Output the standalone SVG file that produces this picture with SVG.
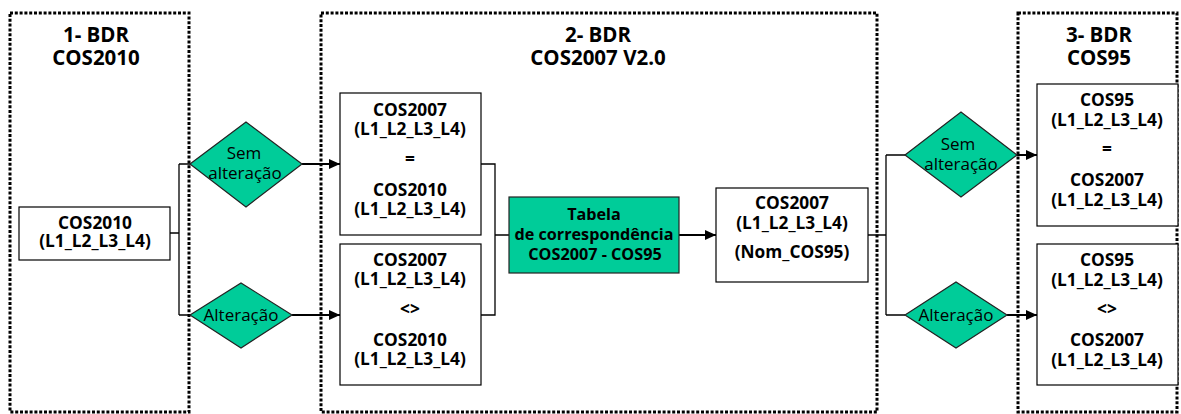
<svg xmlns="http://www.w3.org/2000/svg" width="1181" height="414" viewBox="0 0 1181 414">
<style>
.grp{fill:none;stroke:#000;stroke-width:3;stroke-dasharray:3 1.8}
.title{font-family:"Open Sans",sans-serif;font-weight:bold;font-size:20.5px;text-anchor:middle;fill:#000}
.box{fill:#fff;stroke:#000;stroke-width:1.2}
.teal{fill:#00CC99;stroke:#222;stroke-width:1.2}
.bt{font-family:"Open Sans",sans-serif;font-weight:bold;font-size:17.3px;text-anchor:middle;fill:#000}
.tb{font-size:16.2px}
.dt{font-family:"Open Sans",sans-serif;font-size:17px;text-anchor:middle;fill:#000}
.thin{fill:none;stroke:#000;stroke-width:1.3}
.arr{fill:none;stroke:#000;stroke-width:2;marker-end:url(#ah)}
</style>
<defs>
<marker id="ah" markerWidth="12" markerHeight="12" refX="11" refY="5.5" orient="auto" markerUnits="userSpaceOnUse">
<path d="M0,0.5 L11,5.5 L0,10.5 Z" fill="#000"/>
</marker>
</defs>
<rect width="1181" height="414" fill="#fff"/>

<g id="group1">
<rect class="grp" x="10" y="13" width="179" height="399"/>
<text class="title" x="96" y="42">1- BDR</text>
<text class="title" x="96" y="65">COS2010</text>
</g>
<g id="group2">
<rect class="grp" x="321" y="13" width="556" height="399"/>
<text class="title" x="598" y="42">2- BDR</text>
<text class="title" x="598" y="65">COS2007 V2.0</text>
</g>
<g id="group3">
<rect class="grp" x="1018" y="13" width="159" height="399"/>
<text class="title" x="1099" y="42">3- BDR</text>
<text class="title" x="1099" y="65">COS95</text>
</g>

<g id="connectors">
<path class="thin" d="M170,233 H179 M179,164 V315 M179,164 H191 M179,315 H191"/>
<path class="arr" d="M302,164 H340"/>
<path class="arr" d="M292,315 H340"/>
<path class="thin" d="M481,164 H495 V315 H481 M495,235 H509"/>
<path class="arr" d="M679,235 H716"/>
<path class="thin" d="M868,235 H886 M886,155 V315 M886,155 H905 M886,315 H905"/>
<path class="arr" d="M1017,155 H1037"/>
<path class="arr" d="M1007,315 H1037"/>
</g>

<g id="cos2010">
<rect class="box" x="19" y="207" width="151" height="53"/>
<text class="bt" x="95" y="229">COS2010</text>
<text class="bt" x="95" y="247">(L1_L2_L3_L4)</text>
</g>

<g id="dec-sem-1">
<polygon class="teal" points="190,164 246,122 302,164 246,207"/>
<text class="dt" x="244" y="159">Sem</text>
<text class="dt" x="245" y="179">alteração</text>
</g>
<g id="dec-alt-1">
<polygon class="teal" points="190,315 241,283 292,315 241,348"/>
<text class="dt" x="241" y="321">Alteração</text>
</g>

<g id="box-eq">
<rect class="box" x="340" y="93" width="141" height="142"/>
<text class="bt" x="410" y="116">COS2007</text>
<text class="bt" x="410" y="135">(L1_L2_L3_L4)</text>
<text class="bt" x="410" y="165">=</text>
<text class="bt" x="410" y="196">COS2010</text>
<text class="bt" x="410" y="215">(L1_L2_L3_L4)</text>
</g>
<g id="box-neq">
<rect class="box" x="340" y="244" width="141" height="141"/>
<text class="bt" x="410" y="266">COS2007</text>
<text class="bt" x="410" y="285">(L1_L2_L3_L4)</text>
<text class="bt" x="410" y="315">&lt;&gt;</text>
<text class="bt" x="410" y="346">COS2010</text>
<text class="bt" x="410" y="365">(L1_L2_L3_L4)</text>
</g>

<g id="tabela">
<rect class="teal" x="509" y="197" width="170" height="76"/>
<text class="bt tb" x="594" y="220">Tabela</text>
<text class="bt tb" x="594" y="240">de correspondência</text>
<text class="bt tb" x="595" y="260">COS2007 - COS95</text>
</g>

<g id="nom">
<rect class="box" x="716" y="188" width="152" height="94"/>
<text class="bt" x="792" y="209">COS2007</text>
<text class="bt" x="792" y="229">(L1_L2_L3_L4)</text>
<text class="bt" x="792" y="258">(Nom_COS95)</text>
</g>

<g id="dec-sem-2">
<polygon class="teal" points="905,155 961,112 1017,155 961,197"/>
<text class="dt" x="958" y="150">Sem</text>
<text class="dt" x="961" y="170">alteração</text>
</g>
<g id="dec-alt-2">
<polygon class="teal" points="905,315 956,282 1007,315 956,348"/>
<text class="dt" x="956" y="321">Alteração</text>
</g>

<g id="box-eq95">
<rect class="box" x="1037" y="84" width="141" height="142"/>
<text class="bt" x="1107" y="106">COS95</text>
<text class="bt" x="1107" y="126">(L1_L2_L3_L4)</text>
<text class="bt" x="1107" y="155">=</text>
<text class="bt" x="1107" y="186">COS2007</text>
<text class="bt" x="1107" y="206">(L1_L2_L3_L4)</text>
</g>
<g id="box-neq95">
<rect class="box" x="1037" y="244" width="141" height="141"/>
<text class="bt" x="1107" y="266">COS95</text>
<text class="bt" x="1107" y="286">(L1_L2_L3_L4)</text>
<text class="bt" x="1107" y="315">&lt;&gt;</text>
<text class="bt" x="1107" y="346">COS2007</text>
<text class="bt" x="1107" y="366">(L1_L2_L3_L4)</text>
</g>
</svg>
